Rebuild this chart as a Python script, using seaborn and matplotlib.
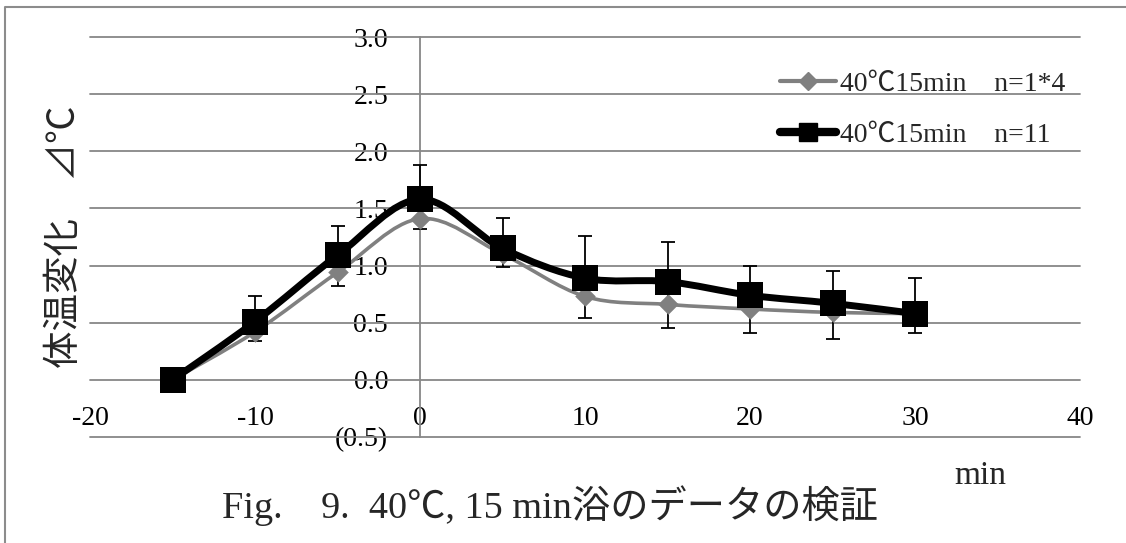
import numpy as np
import pandas as pd
import matplotlib
matplotlib.use("Agg")
import matplotlib.pyplot as plt
import seaborn as sns
from matplotlib.path import Path
from matplotlib.patches import PathPatch
from matplotlib.lines import Line2D
from matplotlib.ticker import FuncFormatter, FixedLocator

# Time relative to end of bathing (min)
minutes = [-15, -10, -5, 0, 5, 10, 15, 20, 25, 30]
# Body temperature change (deg C)
delta_n4 = [0.00, 0.42, 0.94, 1.41, 1.10, 0.73, 0.66, 0.62, 0.59, 0.58]
delta_n11 = [0.00, 0.51, 1.09, 1.58, 1.15, 0.89, 0.86, 0.74, 0.67, 0.58]
err_upper_n11 = [0.00, 0.22, 0.26, 0.30, 0.27, 0.37, 0.35, 0.26, 0.28, 0.31]
err_lower_n11 = [0.00, 0.17, 0.27, 0.26, 0.16, 0.35, 0.41, 0.33, 0.31, 0.17]

series_labels = ["40℃15min\u3000n=1*4", "40℃15min\u3000n=11"]
x_ticks = [-20, -10, 0, 10, 20, 30, 40]
y_ticks = [-0.5, 0.0, 0.5, 1.0, 1.5, 2.0, 2.5, 3.0]

sns.set_style("white")
plt.rcParams["font.family"] = ["Liberation Serif", "Noto Sans CJK JP"]
plt.rcParams["axes.unicode_minus"] = False

W, H = 1126, 543
fig = plt.figure(figsize=(W / 100, H / 100), dpi=100)
ax = fig.add_axes([90 / W, 1 - 437 / H, 990 / W, 400 / H])

GRID = "#878787"


def smooth_path(xs, ys):
    """Bezier path through the points (Catmull-Rom style smoothing)."""
    pts = np.column_stack([xs, ys]).astype(float)
    ext = np.vstack([pts[0], pts, pts[-1]])
    verts = [tuple(pts[0])]
    codes = [Path.MOVETO]
    for i in range(len(pts) - 1):
        p0, p1, p2, p3 = ext[i], ext[i + 1], ext[i + 2], ext[i + 3]
        c1 = p1 + (p2 - p0) / 6.0
        c2 = p2 - (p3 - p1) / 6.0
        verts += [tuple(c1), tuple(c2), tuple(p2)]
        codes += [Path.CURVE4] * 3
    return Path(verts, codes)


df = pd.DataFrame({"min": minutes, "n4": delta_n4, "n11": delta_n11})

# error bars of the n=11 series
ax.errorbar(df["min"], df["n11"], yerr=[err_lower_n11, err_upper_n11],
            fmt="none", ecolor="black", elinewidth=1.3, capsize=4.8,
            capthick=1.3, zorder=2)

# n=1*4 series: grey smoothed line with diamonds
ax.add_patch(PathPatch(smooth_path(df["min"], df["n4"]), fill=False,
                       edgecolor="#808080", lw=2.6, capstyle="round",
                       joinstyle="round", zorder=3))
sns.scatterplot(data=df, x="min", y="n4", marker="D", s=110, color="#808080",
                edgecolor="#808080", linewidth=0, ax=ax, zorder=4, legend=False)

# n=11 series: black smoothed line with squares
ax.add_patch(PathPatch(smooth_path(df["min"], df["n11"]), fill=False,
                       edgecolor="black", lw=5.0, capstyle="round",
                       joinstyle="round", zorder=5))
sns.scatterplot(data=df, x="min", y="n11", marker="s", s=330, color="black",
                edgecolor="black", linewidth=0, ax=ax, zorder=6, legend=False)

ax.set_xlim(-20, 40)
ax.set_ylim(-0.5, 3.0)
ax.xaxis.set_major_locator(FixedLocator(x_ticks))
ax.yaxis.set_major_locator(FixedLocator(y_ticks))
ax.xaxis.set_major_formatter(FuncFormatter(lambda v, p: f"{int(round(v))}"))
ax.yaxis.set_major_formatter(
    FuncFormatter(lambda v, p: f"({abs(v):.1f})" if v < 0 else f"{v:.1f}"))

ax.grid(False)
for yv in y_ticks:
    ax.axhline(yv, color=GRID, lw=1.3, zorder=1, clip_on=False)

for side in ["top", "right", "bottom"]:
    ax.spines[side].set_visible(False)
ax.spines["bottom"].set_position(("data", 0))
ax.spines["left"].set_position(("data", 0))
ax.spines["left"].set_color(GRID)
ax.spines["left"].set_linewidth(1.3)
ax.spines["left"].set_zorder(1)

ax.tick_params(axis="x", length=0, pad=19, labelsize=20, colors="black")
ax.tick_params(axis="y", length=0, pad=23, labelsize=20, colors="black")
ax.set_xlabel("")
ax.set_ylabel("")
ax.set_facecolor("white")

# axis titles and caption
fig.text(66 / W, 1 - 237 / H, "体温変化\u3000⊿℃", rotation=90, fontsize=27,
         ha="center", va="center")
fig.text(980 / W, 1 - 476 / H, "min", fontsize=24, ha="center", va="center")
fig.text(550 / W, 1 - 506 / H, "Fig.    9.  40℃, 15 min浴のデータの検証",
         fontsize=27.5, ha="center", va="center")

# legend
handles = [
    Line2D([], [], color="#808080", lw=3.0, marker="D", markersize=9,
           solid_capstyle="round"),
    Line2D([], [], color="black", lw=6.0, marker="s", markersize=13,
           solid_capstyle="round"),
]
fig.legend(handles, series_labels, loc="upper left",
           bbox_to_anchor=(780 / W, 1 - 71 / H), frameon=False, fontsize=20,
           borderpad=0, borderaxespad=0, handlelength=2.0,
           handletextpad=0.15, labelspacing=0.93)

# outer chart frame (left and top edges)
fig.add_artist(Line2D([5 / W, 5 / W, 1.0], [0.0, 1 - 7 / H, 1 - 7 / H],
                      transform=fig.transFigure, color="#8c8c8c", lw=1.5))

fig.savefig("out.png", dpi=100, facecolor="white")
